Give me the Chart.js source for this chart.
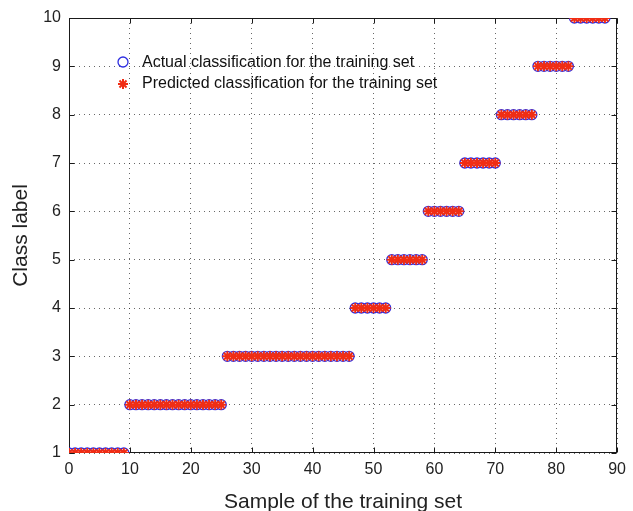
<!DOCTYPE html>
<html>
<head>
<meta charset="utf-8">
<script src="https://cdn.jsdelivr.net/npm/chart.js@4/dist/chart.umd.min.js"></script>
<style>
  html, body { margin: 0; padding: 0; background: #fff; }
  #wrap { width: 633px; height: 511px; }
</style>
</head>
<body>
<div id="wrap"><canvas id="chart" width="633" height="511"></canvas></div>
<script>
// sample index of the training set
const samples = [
  0, 1, 2, 3, 4, 5, 6, 7, 8, 9,
  10, 11, 12, 13, 14, 15, 16, 17, 18, 19, 20, 21, 22, 23, 24, 25,
  26, 27, 28, 29, 30, 31, 32, 33, 34, 35, 36, 37, 38, 39, 40, 41, 42, 43, 44, 45, 46,
  47, 48, 49, 50, 51, 52,
  53, 54, 55, 56, 57, 58,
  59, 60, 61, 62, 63, 64,
  65, 66, 67, 68, 69, 70,
  71, 72, 73, 74, 75, 76,
  77, 78, 79, 80, 81, 82,
  83, 84, 85, 86, 87, 88
];

// actual class of each sample
const actualClass = [
  1, 1, 1, 1, 1, 1, 1, 1, 1, 1,
  2, 2, 2, 2, 2, 2, 2, 2, 2, 2, 2, 2, 2, 2, 2, 2,
  3, 3, 3, 3, 3, 3, 3, 3, 3, 3, 3, 3, 3, 3, 3, 3, 3, 3, 3, 3, 3,
  4, 4, 4, 4, 4, 4,
  5, 5, 5, 5, 5, 5,
  6, 6, 6, 6, 6, 6,
  7, 7, 7, 7, 7, 7,
  8, 8, 8, 8, 8, 8,
  9, 9, 9, 9, 9, 9,
  10, 10, 10, 10, 10, 10
];

// predicted class of each sample
const predictedClass = [
  1, 1, 1, 1, 1, 1, 1, 1, 1, 1,
  2, 2, 2, 2, 2, 2, 2, 2, 2, 2, 2, 2, 2, 2, 2, 2,
  3, 3, 3, 3, 3, 3, 3, 3, 3, 3, 3, 3, 3, 3, 3, 3, 3, 3, 3, 3, 3,
  4, 4, 4, 4, 4, 4,
  5, 5, 5, 5, 5, 5,
  6, 6, 6, 6, 6, 6,
  7, 7, 7, 7, 7, 7,
  8, 8, 8, 8, 8, 8,
  9, 9, 9, 9, 9, 9,
  10, 10, 10, 10, 10, 10
];

const seriesNames = ['Actual classification for the training set', 'Predicted classification for the training set'];
const xTicks = [0, 10, 20, 30, 40, 50, 60, 70, 80, 90];
const yTicks = [1, 2, 3, 4, 5, 6, 7, 8, 9, 10];

const FONT = '"Liberation Sans", Arial, Helvetica, sans-serif';
const BLUE = 'rgb(45, 45, 225)';
const RED = 'rgb(240, 45, 20)';

// box around the axes with matlab style inward ticks
const framePlugin = {
  id: 'frame',
  beforeDatasetsDraw(chart) {
    const { ctx, chartArea: a, scales: { x, y } } = chart;
    const l = Math.round(a.left) + 0.5, r = Math.round(a.right) - 0.5;
    const t = Math.round(a.top) + 0.5, b = Math.round(a.bottom) - 0.5;
    ctx.save();
    ctx.strokeStyle = '#1a1a1a';
    ctx.lineWidth = 1;
    ctx.strokeRect(l, t, r - l, b - t);
    ctx.beginPath();
    xTicks.forEach(v => {
      const px = Math.round(x.getPixelForValue(v)) + 0.5;
      ctx.moveTo(px, b); ctx.lineTo(px, b - 5);
      ctx.moveTo(px, t); ctx.lineTo(px, t + 5);
    });
    yTicks.forEach(v => {
      const py = Math.round(y.getPixelForValue(v)) + 0.5;
      ctx.moveTo(l, py); ctx.lineTo(l + 5, py);
      ctx.moveTo(r, py); ctx.lineTo(r - 5, py);
    });
    ctx.stroke();
    ctx.restore();
  }
};

const drawStar = (ctx, cx, cy, rad) => {
  ctx.beginPath();
  ctx.moveTo(cx - rad, cy); ctx.lineTo(cx + rad, cy);
  ctx.moveTo(cx, cy - rad); ctx.lineTo(cx, cy + rad);
  const d = rad * Math.SQRT1_2;
  ctx.moveTo(cx - d, cy - d); ctx.lineTo(cx + d, cy + d);
  ctx.moveTo(cx - d, cy + d); ctx.lineTo(cx + d, cy - d);
  ctx.stroke();
};

// legend sits inside the plot, top left, without a box
const legendPlugin = {
  id: 'insideLegend',
  afterDraw(chart) {
    const { ctx, chartArea: a } = chart;
    const mx = a.left + 54, tx = a.left + 73;
    const y1 = a.top + 44, y2 = a.top + 66;
    ctx.save();
    ctx.lineWidth = 1.3;
    ctx.strokeStyle = BLUE;
    ctx.beginPath();
    ctx.arc(mx, y1, 5, 0, Math.PI * 2);
    ctx.stroke();
    ctx.strokeStyle = RED;
    ctx.lineWidth = 2;
    drawStar(ctx, mx, y2, 5);
    ctx.fillStyle = '#111';
    ctx.font = '16px ' + FONT;
    ctx.textBaseline = 'middle';
    ctx.textAlign = 'left';
    ctx.fillText(seriesNames[0], tx, y1 + 1);
    ctx.fillText(seriesNames[1], tx, y2);
    ctx.restore();
  }
};

const ctx = document.getElementById('chart').getContext('2d');
new Chart(ctx, {
  type: 'scatter',
  data: {
    datasets: [
      {
        label: seriesNames[0],
        data: samples.map((s, i) => ({ x: s, y: actualClass[i] })),
        pointStyle: 'circle',
        pointRadius: 5,
        pointBorderWidth: 1.3,
        borderColor: BLUE,
        backgroundColor: 'rgba(0,0,0,0)',
        order: 2
      },
      {
        label: seriesNames[1],
        data: samples.map((s, i) => ({ x: s, y: predictedClass[i] })),
        pointStyle: 'star',
        pointRadius: 5,
        pointBorderWidth: 2,
        borderColor: RED,
        backgroundColor: RED,
        order: 1
      }
    ]
  },
  options: {
    responsive: false,
    animation: false,
    events: [],
    layout: { padding: { left: 0, top: 18, right: 14, bottom: 0 } },
    plugins: {
      legend: { display: false },
      tooltip: { enabled: false }
    },
    scales: {
      x: {
        type: 'linear',
        min: 0,
        max: 90,
        afterFit: s => { s.height = 58; },
        afterBuildTicks: s => { s.ticks = xTicks.map(v => ({ value: v })); },
        ticks: {
          autoSkip: false,
          maxRotation: 0,
          padding: 7,
          color: '#222',
          font: { family: FONT, size: 16 }
        },
        grid: {
          color: 'rgba(40,40,40,0.7)',
          lineWidth: 1,
          drawTicks: false
        },
        border: { display: false, dash: [1, 4] },
        title: {
          display: true,
          text: 'Sample of the training set',
          color: '#222',
          padding: { top: 0, bottom: 0 },
          font: { family: FONT, size: 21, lineHeight: 0.85 }
        }
      },
      y: {
        type: 'linear',
        min: 1,
        max: 10,
        afterFit: s => { s.width = 69; },
        afterBuildTicks: s => { s.ticks = yTicks.map(v => ({ value: v })); },
        ticks: {
          autoSkip: false,
          padding: 8,
          color: '#222',
          font: { family: FONT, size: 16 }
        },
        grid: {
          color: 'rgba(40,40,40,0.7)',
          lineWidth: 1,
          drawTicks: false
        },
        border: { display: false, dash: [1, 4] },
        title: {
          display: true,
          text: 'Class label',
          color: '#222',
          padding: { top: 9, bottom: 0 },
          font: { family: FONT, size: 21 }
        }
      }
    }
  },
  plugins: [framePlugin, legendPlugin]
});
</script>
</body>
</html>
